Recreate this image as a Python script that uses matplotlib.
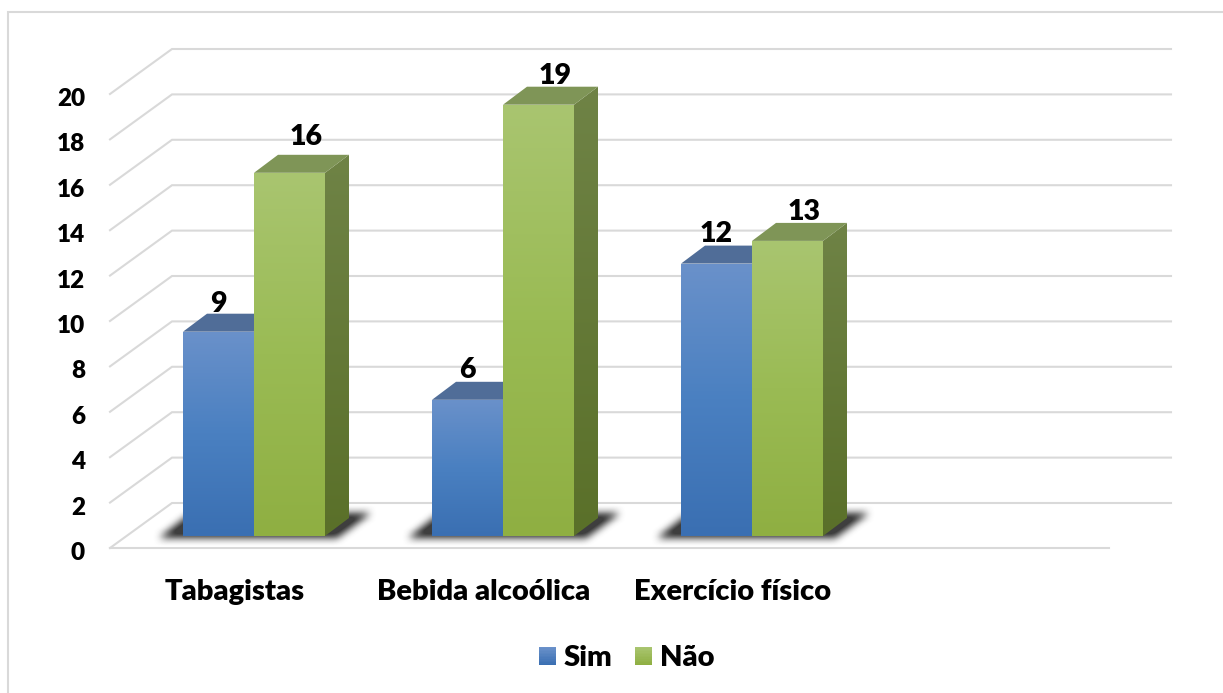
import numpy as np
import matplotlib
matplotlib.use("Agg")
import matplotlib.pyplot as plt
from matplotlib.legend_handler import HandlerBase
from matplotlib.patches import Polygon, Rectangle
from matplotlib.path import Path
from matplotlib.colors import LinearSegmentedColormap, to_rgb
from matplotlib.transforms import Affine2D, IdentityTransform

categories = ["Tabagistas", "Bebida alcoólica", "Exercício físico"]
series_names = ["Sim", "Não"]
sim_values = [9, 6, 12]
nao_values = [16, 19, 13]
y_ticks = list(range(0, 21, 2))

W, H = 1223, 693
WEIGHT = 800
plt.rcParams["font.family"] = ["Lato", "DejaVu Sans"]
plt.rcParams["font.weight"] = WEIGHT
fig = plt.figure(figsize=(W / 100, H / 100), dpi=100, facecolor="white")
ax = fig.add_axes([110 / W, 1 - 548 / H, 999 / W, 454 / H])
ax.patch.set_visible(False)
ax.set_autoscale_on(False)
ax.set_xlim(-0.5, 3.512)
ax.set_ylim(0, 20)
for s in ax.spines.values():
    s.set_visible(False)
ax.set_yticks(y_ticks)
ax.set_xticks(range(len(categories)))
ax.set_xticklabels(categories)
ax.tick_params(axis="y", length=0, pad=18, labelsize=17.5, labelcolor="black")
ax.tick_params(axis="x", length=0, pad=22, labelsize=21, labelcolor="black")
for lab in ax.get_yticklabels():
    lab.set_fontweight(WEIGHT)
    lab.set_transform(lab.get_transform() + Affine2D().translate(0, -3))
for lab in ax.get_xticklabels():
    lab.set_fontweight(WEIGHT)

GRID = "#D9D9D9"
LW = 1.5
WALL = (62, 45)        # pixels from front plane to back wall
BAR_SHIFT = (19.5, 12) # pixels from front plane to bar fronts
DEPTH = (24, 18)       # pixels of bar depth
ident = IdentityTransform()

# frame of the chart area, running off the image on right and bottom
fig.add_artist(Rectangle((7.5 / W, -0.1), 1.2, 1 - 11.5 / H + 0.1, transform=fig.transFigure,
                         fill=False, edgecolor=GRID, linewidth=1.5))


def px(x, y):
    return ax.transData.transform((x, y))


x_left, x_right = ax.get_xlim()
for v in y_ticks:
    a = px(x_left, v)
    b = a + np.array(WALL)
    c = px(x_right, v) + np.array(WALL)
    ax.plot([a[0], b[0], c[0]], [a[1], b[1], c[1]], color=GRID, lw=LW,
            transform=ident, clip_on=False, zorder=1, solid_joinstyle="miter")
f0, f1 = px(x_left, 0), px(x_right, 0)
ax.plot([f0[0], f1[0]], [f0[1], f1[1]], color=GRID, lw=LW, transform=ident, clip_on=False, zorder=1)

SIM_FRONT = ["#6A91CA", "#4A80C1", "#3A6FB2"]
NAO_FRONT = ["#A9C570", "#9ABB54", "#8FAF42"]
SIM_SIDE = ["#46638F", "#2F5588"]
NAO_SIDE = ["#6F8346", "#5A7029"]
SIM_TOP = "#506D98"
NAO_TOP = "#7F9557"

bar_width = 71 / 249
bar_tf = ax.transData + Affine2D().translate(*BAR_SHIFT)


def shaded(poly, colors, z):
    poly = np.asarray(poly)
    cmap = LinearSegmentedColormap.from_list("f", colors)
    grad = np.linspace(0, 1, 256).reshape(-1, 1)
    ext = (poly[:, 0].min(), poly[:, 0].max(), poly[:, 1].min(), poly[:, 1].max())
    im = ax.imshow(grad, cmap=cmap, extent=ext, origin="upper", aspect="auto",
                   transform=ident, zorder=z, interpolation="bilinear")
    im.set_clip_box(fig.bbox)
    im.set_clip_path(Polygon(poly, closed=True, transform=ident))


x = np.arange(len(categories), dtype=float)
z = 3
groups = [(sim_values, -bar_width / 2, SIM_FRONT, SIM_SIDE, SIM_TOP, series_names[0]),
          (nao_values, bar_width / 2, NAO_FRONT, NAO_SIDE, NAO_TOP, series_names[1])]
label_lift = {(0, 0): 28, (0, 1): 30, (0, 2): 30, (1, 0): 36, (1, 1): 29, (1, 2): 29}
label_dx = {0: 0, 1: 17}

shadow_polys = []
for s_i, (vals, off, front, side, top, name) in enumerate(groups):
    bars = ax.bar(x + off, vals, width=bar_width, color=front[1], transform=bar_tf,
                  linewidth=0, zorder=z, label=name)
    for c_i, rect in enumerate(bars):
        x0, x1 = rect.get_x(), rect.get_x() + rect.get_width()
        v = rect.get_height()
        bl = bar_tf.transform((x0, 0))
        br = bar_tf.transform((x1, 0))
        tl = bar_tf.transform((x0, v))
        tr = bar_tf.transform((x1, v))
        d = np.array(DEPTH)
        shaded([br, tr, tr + d, br + d], side, z)
        ax.add_patch(Polygon([tl, tr, tr + d, tl + d], closed=True, transform=ident,
                             facecolor=top, edgecolor="none", zorder=z, clip_on=False))
        shaded([bl, br, tr, tl], front, z + 0.1)
        ax.annotate(str(v), xy=((bl[0] + br[0]) / 2 + label_dx[s_i], tl[1] + label_lift[(s_i, c_i)]),
                    xycoords=ident, ha="center", va="center", fontsize=20.5, color="black",
                    fontweight=WEIGHT, zorder=20, annotation_clip=False)
        if s_i == 0:
            shadow_polys.append(bl)
        else:
            b0 = shadow_polys[c_i]
            shadow_polys[c_i] = np.array([b0 + (-24, -2), br + (12, -2), br + (46, 23), b0 + (8, 23)])
    z += 1

# soft floor shadow, rasterised from the bar footprints
yy, xx = np.mgrid[0:H, 0:W]
pts = np.c_[xx.ravel() + 0.5, yy.ravel() + 0.5]
mask = np.zeros((H, W))
for p in shadow_polys:
    mask[Path(p).contains_points(pts).reshape(H, W)] = 1.0
kernel = np.ones(9) / 9
for _ in range(2):
    mask = np.apply_along_axis(lambda r: np.convolve(r, kernel, mode="same"), 1, mask)
    mask = np.apply_along_axis(lambda r: np.convolve(r, kernel, mode="same"), 0, mask)
rgba = np.zeros((H, W, 4))
rgba[..., :3] = 0.2
rgba[..., 3] = np.clip(mask * 1.1, 0, 0.95)
fig.figimage(rgba, origin="lower", zorder=2)
ax.set_zorder(3)


class GradientHandle(HandlerBase):
    def __init__(self, colors):
        super().__init__()
        self.colors = colors

    def create_artists(self, legend, orig, xd, yd, w, h, fs, trans):
        n = 12
        a, b = np.array(to_rgb(self.colors[0])), np.array(to_rgb(self.colors[-1]))
        out = []
        for i in range(n):
            t = i / (n - 1)
            out.append(Rectangle((-xd, -yd + h * (1 - (i + 1) / n)), w, h / n + 0.2, facecolor=a * (1 - t) + b * t,
                                 edgecolor="none", transform=trans))
        return out


h_sim = Rectangle((0, 0), 1, 1)
h_nao = Rectangle((0, 0), 1, 1)
fig.legend([h_sim, h_nao], series_names, loc="center", bbox_to_anchor=(626.5 / W, 1 - 658.5 / H), ncol=2,
           frameon=False, handlelength=0.58, handleheight=0.6, handletextpad=0.27,
           columnspacing=0.78, borderpad=0, borderaxespad=0, labelcolor="black",
           prop={"size": 21, "weight": WEIGHT, "family": "Lato"},
           handler_map={h_sim: GradientHandle(SIM_FRONT), h_nao: GradientHandle(NAO_FRONT)})

fig.savefig("out.png", dpi=100, facecolor="white")
